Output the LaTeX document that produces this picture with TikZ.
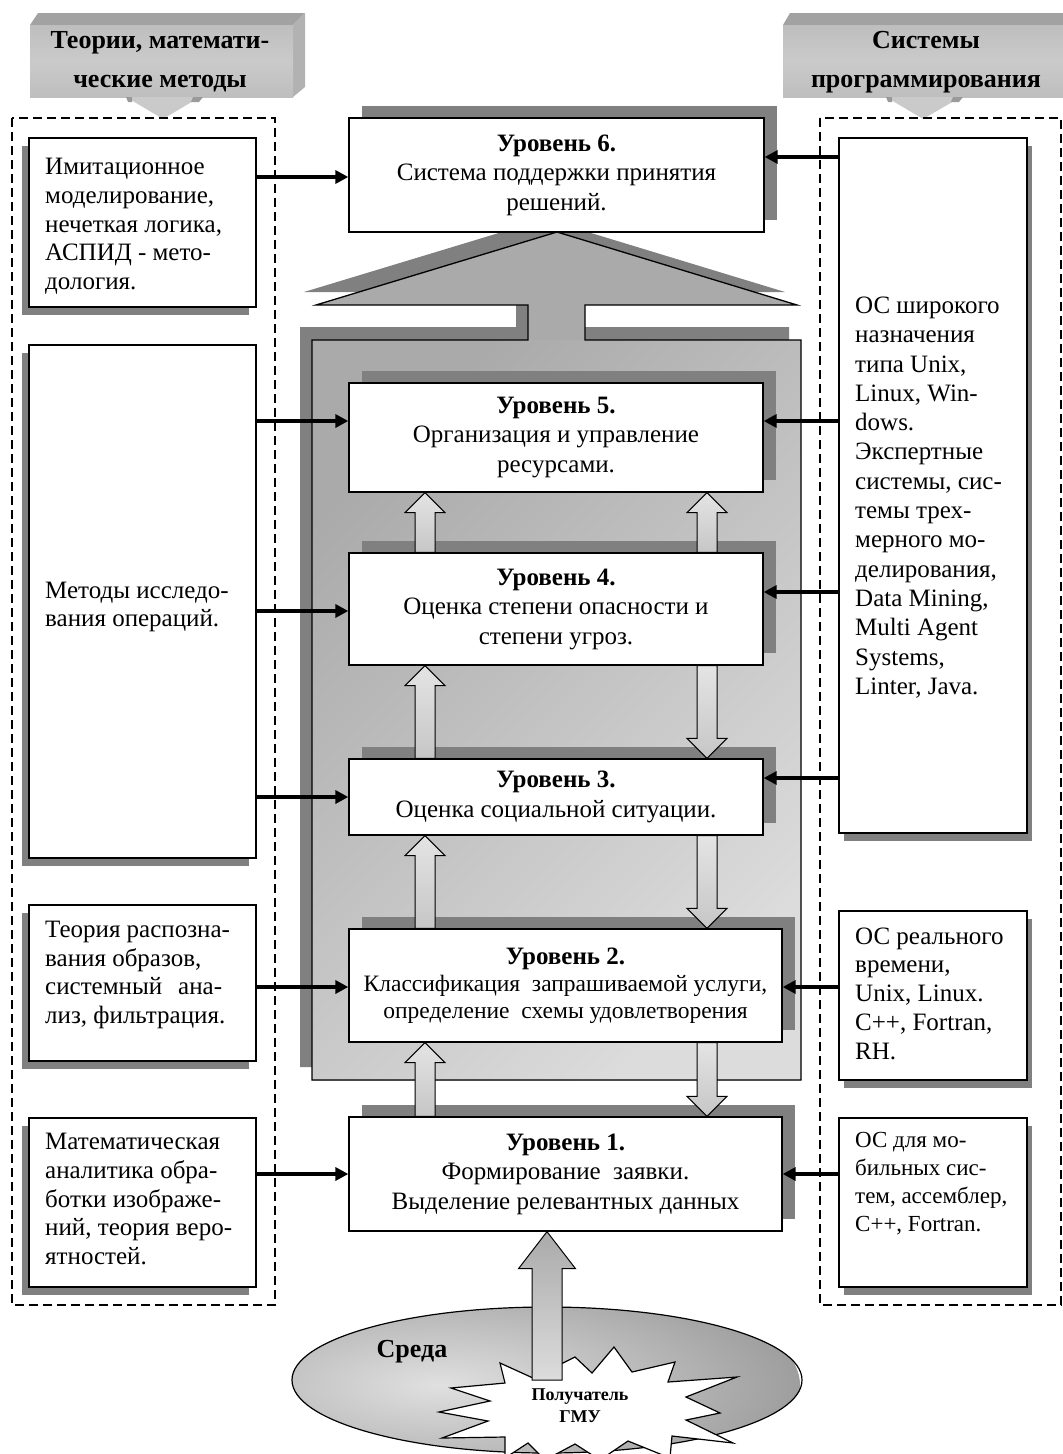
\documentclass[tikz,border=0pt]{standalone}
\usepackage{fontspec}
\setmainfont{Liberation Serif}
\usetikzlibrary{arrows.meta,calc,shadows,shapes.geometric}

\definecolor{shadowgray}{HTML}{808080}
\definecolor{roofgray}{HTML}{AAAAAA}
\definecolor{framelight}{HTML}{DCDCDC}
\definecolor{hdrfront}{HTML}{BEBEBE}
\definecolor{hdrmid}{HTML}{CACACA}
\definecolor{hdrtop}{HTML}{A2A2A2}
\definecolor{hdrside}{HTML}{B2B2B2}
\definecolor{blktop}{HTML}{E4E4E4}
\definecolor{blkbot}{HTML}{C6C6C6}
\definecolor{envin}{HTML}{E0E0E0}
\definecolor{envout}{HTML}{9E9E9E}

% hollow block arrow: tail, tip, shaft half-width, head half-width, head length
\newcommand\blockarrow[5]{%
  \coordinate (ba-s) at (#1);
  \coordinate (ba-e) at (#2);
  \coordinate (ba-h) at ($(ba-e)!#5!(ba-s)$);
  \draw[blk] ([xshift=-#3]ba-s) -- ([xshift=-#3]ba-h) -- ([xshift=-#4]ba-h)
    -- (ba-e) -- ([xshift=#4]ba-h) -- ([xshift=#3]ba-h) -- ([xshift=#3]ba-s) -- cycle;}

\begin{document}
\begin{tikzpicture}[x=1pt,y=-1pt,
  conn/.style={line width=3.6pt, -{Triangle[length=13pt,width=13pt]}},
  blk/.style={draw, line width=1pt, top color=blktop, bottom color=blkbot},
  dashbox/.style={draw, line width=1.2pt, dash pattern=on 9pt off 5pt},
  level/.style={draw, line width=1.3pt, fill=white, inner sep=0pt, align=center,
    font=\fontsize{25}{29.5}\selectfont,
    general shadow={fill=shadowgray, shadow xshift=13pt, shadow yshift=12pt}},
  sidebox/.style={draw, line width=1.4pt, fill=white, inner sep=0pt},
  lbox/.style={sidebox, minimum width=227pt,
    general shadow={fill=shadowgray, shadow xshift=-7pt, shadow yshift=-8pt}},
  rbox/.style={sidebox, minimum width=188pt,
    general shadow={fill=shadowgray, shadow xshift=5pt, shadow yshift=-8pt}},
  sidetext/.style={inner sep=0pt, anchor=west, align=left,
    font=\fontsize{25}{28.7}\selectfont},
  hdrtext/.style={inner sep=0pt, align=center, font=\bfseries\fontsize{26}{39}\selectfont},
  roofframe/.pic={\path[pic actions] (316,305) -- (557,232) -- (797,305) -- (585,305)
    -- (585,340) -- (801,340) -- (801,1080) -- (312,1080) -- (312,340) -- (528,340)
    -- (528,305) -- cycle;}
]
\useasboundingbox (0,0) rectangle (1063,1454);

% ---------- header blocks ----------
\fill[hdrtop] (30,25) -- (38,13) -- (305,13) -- (293,25) -- cycle;
\fill[hdrside] (293,25) -- (305,13) -- (305,87) -- (293,97) -- cycle;
\shade[top color=hdrfront, bottom color=hdrfront, middle color=hdrmid] (30,25) rectangle (293,97);
\fill[hdrmid] (126,97) -- (200,97) -- (163,119) -- cycle;
\fill[shadowgray!80] (126,97) -- (132,97) -- (132,102) -- (128,102) -- cycle;
\fill[shadowgray!80] (193,97) -- (203,97) -- (199,102) -- (191,102) -- cycle;
\node[hdrtext] (hdrL) at (160,62) {Теории, математи-\\ческие методы};

\fill[hdrtop] (783,25) -- (790,13) -- (1063,13) -- (1063,25) -- cycle;
\shade[top color=hdrfront, bottom color=hdrfront, middle color=hdrmid] (783,25) rectangle (1063,97);
\fill[hdrmid] (886,97) -- (961,97) -- (923,119) -- cycle;
\fill[shadowgray!80] (886,97) -- (892,97) -- (892,102) -- (888,102) -- cycle;
\fill[shadowgray!80] (953,97) -- (963,97) -- (959,102) -- (951,102) -- cycle;
\node[hdrtext] (hdrR) at (926,62) {Системы\\программирования};

% ---------- dashed groups ----------
\draw[dashbox] (12,118) rectangle (275,1305);
\draw[dashbox] (820,118) rectangle (1061,1305);

% ---------- left column ----------
\node[lbox, minimum height=169pt] (lb1) at (142.5,222.5) {};
\node[sidetext] (lb1t) at (45,226.5) {Имитационное\\моделирование,\\нечеткая логика,\\АСПИД - мето-\\дология.};
\node[lbox, minimum height=513pt] (lb2) at (142.5,601.5) {};
\node[sidetext] (lb2t) at (45,607) {Методы исследо-\\вания операций.};
\node[lbox, minimum height=156pt] (lb3) at (142.5,983) {};
\node[sidetext] (lb3t) at (45,975) {Теория распозна-\\вания образов,\\системный\hspace{16pt}ана-\\лиз, фильтрация.};
\node[lbox, minimum height=169pt] (lb4) at (142.5,1202.5) {};
\node[sidetext] (lb4t) at (45,1199) {Математическая\\аналитика обра-\\ботки изображе-\\ний, теория веро-\\ятностей.};

% ---------- right column ----------
\node[rbox, minimum height=695pt] (rb1) at (933,485.5) {};
\node[sidetext, font=\fontsize{25}{29.3}\selectfont] (rb1t) at (855,497.5) {ОС широкого\\назначения\\типа Unix,\\Linux, Win-\\dows.\\Экспертные\\системы, сис-\\темы трех-\\мерного мо-\\делирования,\\Data Mining,\\Multi Agent\\Systems,\\Linter, Java.};
\node[rbox, minimum height=169pt] (rb2) at (933,995.5) {};
\node[sidetext] (rb2t) at (855,993.5) {ОС реального\\времени,\\Unix, Linux.\\C++, Fortran,\\RH.};
\node[rbox, minimum height=169pt] (rb3) at (933,1202.5) {};
\node[sidetext, font=\fontsize{23}{28}\selectfont] (rb3t) at (855,1184) {ОС для мо-\\бильных сис-\\тем, ассемблер,\\C++, Fortran.};

% ---------- roof and frame ----------
\pic[fill=shadowgray] at (-12,-13) {roofframe};
\pic[fill=roofgray] at (0,0) {roofframe};
\shade[top color=roofgray, bottom color=framelight, shading angle=45] (312,340) rectangle (801,1080);
\pic[draw, line width=1.3pt] at (0,0) {roofframe};

% ---------- levels ----------
\node[level, minimum width=415pt, minimum height=114pt] (lev6) at (556.5,175)
  {\textbf{Уровень 6.}\\Система поддержки принятия\\решений.};
\node[level, minimum width=414pt, minimum height=109pt] (lev5) at (556,437.5)
  {\textbf{Уровень 5.}\\Организация и управление\\ресурсами.};
\node[level, minimum width=414pt, minimum height=112pt] (lev4) at (556,609)
  {\textbf{Уровень 4.}\\Оценка степени опасности и\\степени угроз.};
\node[level, minimum width=414pt, minimum height=76pt] (lev3) at (556,797)
  {\textbf{Уровень 3.}\\Оценка социальной ситуации.};
\node[level, minimum width=433pt, minimum height=113pt, font=\fontsize{23.5}{27}\selectfont] (lev2) at (565.5,985.5)
  {\textbf{\fontsize{25}{27}\selectfont Уровень 2.}\\Классификация\ \ запрашиваемой услуги,\\определение\ \ схемы удовлетворения};
\node[level, minimum width=433pt, minimum height=114pt] (lev1) at (565.5,1174)
  {\textbf{Уровень 1.}\\Формирование\ \ заявки.\\Выделение релевантных данных};

% ---------- transitions between levels ----------
\coordinate (ax) at (425,0);
\coordinate (bx) at (707,0);
\blockarrow{lev1.north -| ax}{lev2.south -| ax}{10pt}{20pt}{20pt}
\blockarrow{lev2.south -| bx}{lev1.north -| bx}{10pt}{20pt}{20pt}
\blockarrow{lev2.north -| ax}{lev3.south -| ax}{10pt}{20pt}{20pt}
\blockarrow{lev3.south -| bx}{lev2.north -| bx}{10pt}{20pt}{20pt}
\blockarrow{lev3.north -| ax}{lev4.south -| ax}{10pt}{20pt}{20pt}
\blockarrow{lev4.south -| bx}{lev3.north -| bx}{10pt}{20pt}{20pt}
\blockarrow{lev4.north -| ax}{lev5.south -| ax}{10pt}{20pt}{20pt}
\blockarrow{lev4.north -| bx}{lev5.south -| bx}{10pt}{20pt}{20pt}

% ---------- inputs from methods and tools ----------
\coordinate (yl6) at (0,177);  \coordinate (yr6) at (0,157);
\coordinate (yl5) at (0,421);  \coordinate (yr5) at (0,421);
\coordinate (yl4) at (0,611);  \coordinate (yr4) at (0,592);
\coordinate (yl3) at (0,797);  \coordinate (yr3) at (0,778);
\coordinate (yl2) at (0,987);  \coordinate (yr2) at (0,987);
\coordinate (yl1) at (0,1174); \coordinate (yr1) at (0,1174);
\draw[conn] (lb1.east |- yl6) -- (lev6.west |- yl6);
\draw[conn] (lb2.east |- yl5) -- (lev5.west |- yl5);
\draw[conn] (lb2.east |- yl4) -- (lev4.west |- yl4);
\draw[conn] (lb2.east |- yl3) -- (lev3.west |- yl3);
\draw[conn] (lb3.east |- yl2) -- (lev2.west |- yl2);
\draw[conn] (lb4.east |- yl1) -- (lev1.west |- yl1);
\draw[conn] (rb1.west |- yr6) -- (lev6.east |- yr6);
\draw[conn] (rb1.west |- yr5) -- (lev5.east |- yr5);
\draw[conn] (rb1.west |- yr4) -- (lev4.east |- yr4);
\draw[conn] (rb1.west |- yr3) -- (lev3.east |- yr3);
\draw[conn] (rb2.west |- yr2) -- (lev2.east |- yr2);
\draw[conn] (rb3.west |- yr1) -- (lev1.east |- yr1);

% ---------- environment ----------
\node[ellipse, minimum width=510pt, minimum height=146pt, inner sep=0pt] (env) at (547,1380) {};
\begin{scope}
  \clip (env.center) ellipse [x radius=255, y radius=73];
  \shade[inner color=envin, outer color=envout] (440,1385) ellipse [x radius=360, y radius=120];
\end{scope}
\draw[line width=1.2pt] (env.center) ellipse [x radius=255, y radius=73];
\node[font=\bfseries\fontsize{26}{30}\selectfont, inner sep=0pt] (envt) at (412,1352) {Среда};
\draw[fill=white, line width=1.2pt] (500,1363) -- (533,1378) -- (575,1357) -- (592,1373)
  -- (614,1347) -- (632,1372) -- (675,1362) -- (668,1382) -- (737,1377) -- (686,1397)
  -- (720,1413) -- (686,1420) -- (733,1443) -- (672,1436) -- (670,1458) -- (628,1441)
  -- (600,1460) -- (575,1444) -- (545,1460) -- (528,1443) -- (505,1458) -- (505,1437)
  -- (442,1438) -- (488,1421) -- (439,1412) -- (490,1401) -- (451,1388) -- (505,1383) -- cycle;
\node[font=\bfseries\fontsize{18}{22}\selectfont, inner sep=0pt, align=center] (recv) at (580,1406) {Получатель\\ГМУ};
\coordinate (recvtail) at (547,1380);
\begin{scope}[blk/.style={draw, line width=1pt, top color=roofgray, bottom color=framelight}]
\blockarrow{recvtail}{lev1.south -| recvtail}{15pt}{28.5pt}{37pt}
\end{scope}
\end{tikzpicture}
\end{document}
